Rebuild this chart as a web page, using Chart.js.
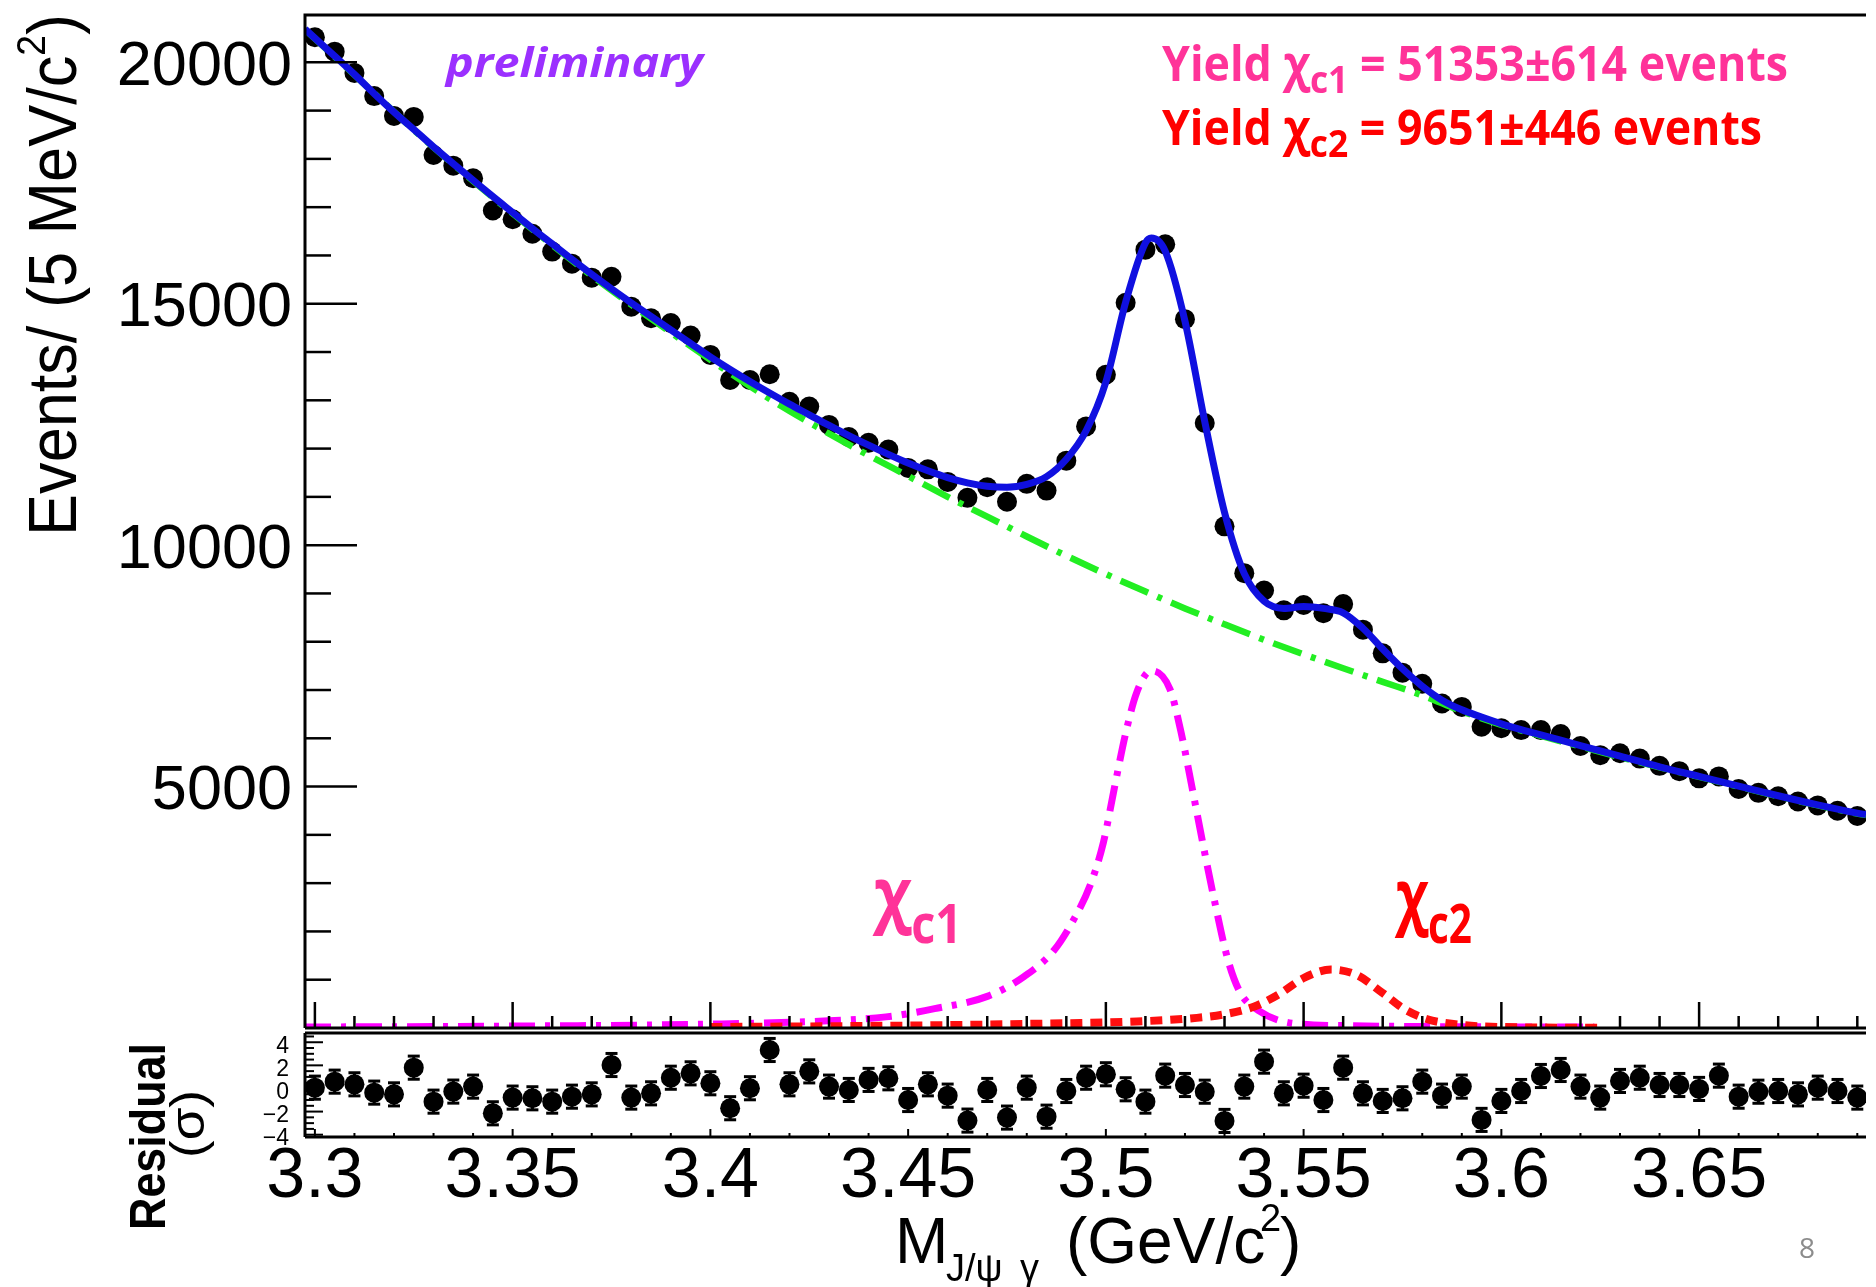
<!DOCTYPE html>
<html>
<head>
<meta charset="utf-8">
<script src="https://cdn.jsdelivr.net/npm/chart.js@4.4.1/dist/chart.umd.min.js"></script>
<style>
  html, body { margin: 0; padding: 0; background: #fff; }
  #wrap { position: relative; width: 1876px; height: 1287px; }
  canvas { position: absolute; left: 0; top: 0; }
</style>
</head>
<body>
<div id="wrap">
  <canvas id="main" width="1876" height="1287"></canvas>
  <canvas id="resid" width="1876" height="1287"></canvas>
</div>
<script>
// histogram binning (5 MeV bins)
const binLow = 3.2975;
const binWidth = 0.005;
const xMin = 3.2975, xMax = 3.6922;

// events per bin
const events = [
  20520, 20220, 19780, 19300, 18890, 18870, 18080, 17860, 17600, 16930,
  16750, 16450, 16080, 15830, 15540, 15560, 14940, 14700, 14600, 14340,
  13940, 13420, 13420, 13540, 12970, 12870, 12490, 12240, 12120, 11980,
  11600, 11570, 11310, 10980, 11200, 10900, 11270, 11130, 11750, 12460,
  13530, 15020, 16120, 16230, 14680, 12530, 10390, 9420, 9060, 8650,
  8760, 8590, 8780, 8250, 7760, 7360, 7130, 6720, 6650, 6240,
  6210, 6170, 6170, 6090, 5840, 5650, 5690, 5580, 5430, 5320,
  5170, 5210, 4950, 4870, 4800, 4690, 4610, 4500, 4390
];

// residuals in units of sigma
const pulls = [
  0.07, 0.59, 0.36, -0.36, -0.51, 1.80, -1.14, -0.27, 0.16, -2.15,
  -0.79, -0.85, -1.14, -0.71, -0.51, 2.03, -0.79, -0.42, 0.93, 1.31,
  0.45, -1.71, 0.02, 3.33, 0.36, 1.48, 0.16, -0.13, 0.74, 0.88,
  -1.00, 0.36, -0.62, -2.78, -0.13, -2.52, 0.07, -2.44, -0.22, 0.93,
  1.23, -0.07, -1.14, 1.11, 0.30, -0.28, -2.81, 0.16, 2.32, -0.42,
  0.24, -1.00, 1.80, -0.42, -1.08, -0.85, 0.59, -0.62, 0.16, -2.72,
  -1.08, -0.22, 1.08, 1.60, 0.16, -0.79, 0.65, 0.93, 0.30, 0.30,
  -0.04, 1.11, -0.71, -0.28, -0.22, -0.51, 0.07, -0.22, -0.79
];

// total fit (blue)
const fitX = [3.2975, 3.300, 3.305, 3.310, 3.315, 3.320, 3.325, 3.330, 3.335, 3.340,
  3.345, 3.350, 3.355, 3.360, 3.365, 3.370, 3.375, 3.380, 3.385, 3.390,
  3.395, 3.400, 3.405, 3.410, 3.415, 3.420, 3.425, 3.430, 3.435, 3.440,
  3.445, 3.450, 3.455, 3.460, 3.465, 3.470, 3.475, 3.480, 3.485, 3.490,
  3.495, 3.500, 3.505, 3.510, 3.5115, 3.515, 3.520, 3.525, 3.530, 3.535,
  3.540, 3.545, 3.550, 3.555, 3.560, 3.565, 3.570, 3.575, 3.580, 3.585,
  3.590, 3.595, 3.600, 3.605, 3.610, 3.620, 3.630, 3.640, 3.650, 3.660,
  3.670, 3.680, 3.690, 3.6922];
const fitY = [20690, 20500, 20130, 19750, 19350, 18970, 18610, 18250, 17900, 17560,
  17220, 16890, 16560, 16240, 15920, 15610, 15310, 15020, 14740, 14460,
  14180, 13900, 13640, 13390, 13150, 12920, 12700, 12480, 12270, 12070,
  11880, 11700, 11540, 11400, 11290, 11220, 11200, 11260, 11420, 11780,
  12370, 13380, 15030, 16260, 16360, 16090, 14640, 12560, 10680, 9410,
  8840, 8690, 8730, 8690, 8600, 8280, 7850, 7440, 7080, 6790,
  6590, 6440, 6300, 6180, 6070, 5850, 5630, 5410, 5210, 5010,
  4810, 4620, 4450, 4420];

// background (green)
const bkgX = [3.2975, 3.31, 3.325, 3.34, 3.355, 3.37, 3.385, 3.40, 3.41, 3.42,
  3.43, 3.44, 3.45, 3.46, 3.47, 3.48, 3.49, 3.50, 3.51, 3.52,
  3.53, 3.54, 3.55, 3.56, 3.57, 3.58, 3.59, 3.60, 3.61, 3.62,
  3.63, 3.64, 3.65, 3.66, 3.67, 3.68, 3.69, 3.6922];
const bkgY = [20680, 19740, 18600, 17540, 16540, 15580, 14690, 13840, 13290, 12780,
  12310, 11860, 11430, 11000, 10590, 10180, 9780, 9400, 9040, 8690,
  8360, 8040, 7740, 7450, 7170, 6890, 6560, 6280, 6050, 5830,
  5610, 5400, 5200, 5000, 4800, 4610, 4440, 4410];

// chi_c1 signal (magenta)
const chic1X = [3.2975, 3.35, 3.40, 3.4275, 3.4444, 3.4567, 3.4702, 3.4792, 3.487, 3.4921,
  3.496, 3.4994, 3.5021, 3.505, 3.5078, 3.5115, 3.5162, 3.519, 3.5217, 3.5245,
  3.5274, 3.5309, 3.534, 3.5386, 3.547, 3.56, 3.58, 3.6235];
const chic1Y = [20, 40, 80, 140, 230, 400, 660, 1060, 1620, 2280,
  2950, 3850, 4950, 6100, 6950, 7400, 7020, 6130, 5020, 3830,
  2660, 1400, 730, 360, 100, 50, 30, 20];

// chi_c2 signal (red)
const chic2X = [3.40, 3.45, 3.484, 3.506, 3.523, 3.5304, 3.5374, 3.5438, 3.5499, 3.5569,
  3.5634, 3.5699, 3.5753, 3.5813, 3.5893, 3.60, 3.625];
const chic2Y = [20, 50, 90, 130, 210, 290, 440, 700, 1030, 1210,
  1100, 730, 400, 180, 70, 20, 5];

// axis labels
const yTickLabels = [5000, 10000, 15000, 20000];
const xTickValues = [3.30, 3.35, 3.40, 3.45, 3.50, 3.55, 3.60, 3.65];
const xTickLabels = ['3.3', '3.35', '3.4', '3.45', '3.5', '3.55', '3.6', '3.65'];
const resTickLabels = [4, 2, 0, -2, -4];

const binCenter = i => binLow + binWidth * (i + 0.5);
const zip = (xs, ys) => xs.map((x, i) => ({ x: x, y: ys[i] }));

const HELV = '"Liberation Sans", Arial, sans-serif';
const CALI = '"Open Sans", sans-serif';

function drawRich(ctx, x, y, parts, opt) {
  opt = opt || {};
  ctx.save();
  const w = parts.map(p => { ctx.font = p.font; return ctx.measureText(p.text).width; });
  const total = w.reduce((a, b) => a + b, 0);
  const sx = opt.width ? opt.width / total : 1;
  ctx.translate(x, y);
  if (opt.angle) ctx.rotate(opt.angle);
  ctx.scale(sx, 1);
  ctx.textAlign = 'left';
  ctx.textBaseline = 'alphabetic';
  let cx = 0;
  parts.forEach((p, i) => {
    ctx.font = p.font;
    ctx.fillStyle = p.color || opt.color || '#000';
    ctx.fillText(p.text, cx, p.dy || 0);
    cx += w[i];
  });
  ctx.restore();
}

function seg(ctx, x1, y1, x2, y2) {
  ctx.beginPath(); ctx.moveTo(x1, y1); ctx.lineTo(x2, y2); ctx.stroke();
}

const mainDeco = {
  id: 'mainDeco',
  beforeDraw(chart) {
    const ctx = chart.ctx;
    ctx.save();
    ctx.fillStyle = '#fff';
    ctx.fillRect(0, 0, chart.width, chart.height);
    ctx.restore();
  },
  afterDraw(chart) {
    const ctx = chart.ctx;
    const { left, top, right, bottom } = chart.chartArea;
    const xs = chart.scales.x, ys = chart.scales.y;
    ctx.save();
    ctx.strokeStyle = '#000';
    ctx.lineWidth = 3;
    ctx.beginPath();
    ctx.moveTo(left, bottom); ctx.lineTo(left, top); ctx.lineTo(right, top);
    ctx.stroke();
    seg(ctx, left, bottom, right, bottom);

    ctx.lineWidth = 2.5;
    for (let v = 1000; v <= 20000; v += 1000) {
      const y = ys.getPixelForValue(v);
      seg(ctx, left, y, left + (v % 5000 === 0 ? 52 : 26), y);
    }
    for (let k = 330; k <= 369; k++) {
      const x = xs.getPixelForValue(k / 100);
      seg(ctx, x, bottom, x, bottom - (k % 5 === 0 ? 26 : 12));
    }

    ctx.fillStyle = '#000';
    ctx.font = '63px ' + HELV;
    ctx.textAlign = 'right';
    ctx.textBaseline = 'alphabetic';
    yTickLabels.forEach(v => ctx.fillText(String(v), 292, ys.getPixelForValue(v) + 22.5));

    // y axis title
    drawRich(ctx, 76, 536, [
      { text: 'Events/ (5 MeV/c', font: '68px ' + HELV },
      { text: '2', font: '40px ' + HELV, dy: -31 },
      { text: ')', font: '68px ' + HELV }
    ], { angle: -Math.PI / 2, width: 522 });

    drawRich(ctx, 446, 77, [{ text: 'preliminary', font: 'italic bold 41px ' + CALI }],
      { width: 257, color: '#9b30ff' });

    drawRich(ctx, 1162, 80.5, [
      { text: 'Yield ', font: 'bold 48px ' + CALI },
      { text: 'χ', font: 'bold 48px ' + CALI },
      { text: 'c1', font: 'bold 38px ' + CALI, dy: 12 },
      { text: ' = 51353±614 events', font: 'bold 48px ' + CALI }
    ], { width: 626, color: '#ff3399' });

    drawRich(ctx, 1162, 144.6, [
      { text: 'Yield ', font: 'bold 48px ' + CALI },
      { text: 'χ', font: 'bold 48px ' + CALI },
      { text: 'c2', font: 'bold 38px ' + CALI, dy: 12 },
      { text: ' = 9651±446 events', font: 'bold 48px ' + CALI }
    ], { width: 600, color: '#ff0000' });

    drawRich(ctx, 874, 919, [
      { text: 'χ', font: 'bold 71px ' + CALI },
      { text: 'c1', font: 'bold 53px ' + CALI, dy: 24 }
    ], { width: 88, color: '#ff3399' });

    drawRich(ctx, 1396, 921, [
      { text: 'χ', font: 'bold 71px ' + CALI },
      { text: 'c2', font: 'bold 53px ' + CALI, dy: 22 }
    ], { width: 76, color: '#ff0000' });

    ctx.restore();
  }
};

const residDeco = {
  id: 'residDeco',
  afterDraw(chart) {
    const ctx = chart.ctx;
    const { left, top, right, bottom } = chart.chartArea;
    const xs = chart.scales.x, ys = chart.scales.y;
    ctx.save();
    ctx.strokeStyle = '#000';
    ctx.lineWidth = 3;
    seg(ctx, left, top, right, top);
    seg(ctx, left, bottom, right, bottom);
    seg(ctx, left, top, left, bottom);

    ctx.lineWidth = 2;
    for (let k = -8; k <= 9; k++) {
      const y = ys.getPixelForValue(k / 2);
      seg(ctx, left, y, left + (k % 4 === 0 ? 18 : 9), y);
    }
    for (let k = 330; k <= 369; k++) {
      const x = xs.getPixelForValue(k / 100);
      seg(ctx, x, bottom, x, bottom - (k % 5 === 0 ? 8 : 4));
    }

    ctx.fillStyle = '#000';
    ctx.font = '23px ' + HELV;
    ctx.textAlign = 'right';
    ctx.textBaseline = 'middle';
    resTickLabels.forEach(v => {
      ctx.fillText(v < 0 ? '\u2212' + Math.abs(v) : String(v), 289, ys.getPixelForValue(v) + 4);
    });

    ctx.font = '70px ' + HELV;
    ctx.textAlign = 'center';
    ctx.textBaseline = 'alphabetic';
    xTickValues.forEach((v, i) => ctx.fillText(xTickLabels[i], xs.getPixelForValue(v), 1197));

    // x axis title
    ctx.textAlign = 'left';
    ctx.font = '64px ' + HELV;
    ctx.fillText('M', 895, 1263);
    ctx.font = '38px ' + HELV;
    ctx.fillText('J/ψ', 946, 1281);
    ctx.fillText('γ', 1020, 1281);
    ctx.font = '64px ' + HELV;
    ctx.fillText('(GeV/c', 1066, 1263);
    ctx.font = '38px ' + HELV;
    ctx.fillText('2', 1260, 1231);
    ctx.font = '64px ' + HELV;
    ctx.fillText(')', 1280, 1263);

    // residual axis title
    drawRich(ctx, 165, 1230, [{ text: 'Residual', font: 'bold 50px ' + HELV }],
      { angle: -Math.PI / 2, width: 187 });
    drawRich(ctx, 204, 1158, [{ text: '(σ)', font: '48px ' + HELV }],
      { angle: -Math.PI / 2, width: 68 });

    ctx.fillStyle = '#8c8c8c';
    ctx.font = '28px ' + CALI;
    ctx.fillText('8', 1799, 1258);
    ctx.restore();
  }
};

const curve = (data, color, width, dash, order) => ({
  data: data,
  borderColor: color,
  borderWidth: width,
  borderDash: dash,
  borderCapStyle: 'butt',
  pointRadius: 0,
  fill: false,
  cubicInterpolationMode: 'monotone',
  order: order
});

new Chart(document.getElementById('main').getContext('2d'), {
  type: 'line',
  data: {
    datasets: [
      {
        data: events.map((n, i) => ({ x: binCenter(i), y: n })),
        showLine: false,
        pointRadius: 10,
        pointBackgroundColor: '#000',
        pointBorderWidth: 0,
        order: 10
      },
      curve(zip(bkgX, bkgY), '#22ee22', 6.5, [30, 10, 5, 10], 5),
      curve(zip(chic1X, chic1Y), '#ff00ff', 7, [26, 10, 5, 10], 4),
      curve(zip(chic2X, chic2Y), '#ff0f0f', 8, [12, 8], 3),
      curve(zip(fitX, fitY), '#1010e0', 7, [], 1)
    ]
  },
  options: {
    responsive: false,
    animation: false,
    devicePixelRatio: 1,
    events: [],
    layout: { padding: { left: 305, top: 15, right: 0, bottom: 259 } },
    plugins: { legend: { display: false }, tooltip: { enabled: false } },
    scales: {
      x: { type: 'linear', min: xMin, max: xMax, display: false },
      y: { type: 'linear', min: 0, max: 20980, display: false }
    }
  },
  plugins: [mainDeco]
});

new Chart(document.getElementById('resid').getContext('2d'), {
  type: 'line',
  data: {
    datasets: [
      {
        data: pulls.flatMap((r, i) => [
          { x: binCenter(i), y: r - 1 },
          { x: binCenter(i), y: r + 1 },
          { x: binCenter(i), y: null }
        ]),
        borderColor: '#000',
        borderWidth: 3,
        spanGaps: false,
        tension: 0,
        pointStyle: 'line',
        pointRadius: 6,
        pointBorderWidth: 3,
        pointBorderColor: '#000',
        order: 2
      },
      {
        data: pulls.map((r, i) => ({ x: binCenter(i), y: r })),
        showLine: false,
        pointRadius: 10,
        pointBackgroundColor: '#000',
        pointBorderWidth: 0,
        order: 1
      }
    ]
  },
  options: {
    responsive: false,
    animation: false,
    devicePixelRatio: 1,
    events: [],
    layout: { padding: { left: 305, top: 1033, right: 0, bottom: 150 } },
    plugins: { legend: { display: false }, tooltip: { enabled: false } },
    scales: {
      x: { type: 'linear', min: xMin, max: xMax, display: false },
      y: { type: 'linear', min: -4.2, max: 4.8, display: false }
    }
  },
  plugins: [residDeco]
});
</script>
</body>
</html>
